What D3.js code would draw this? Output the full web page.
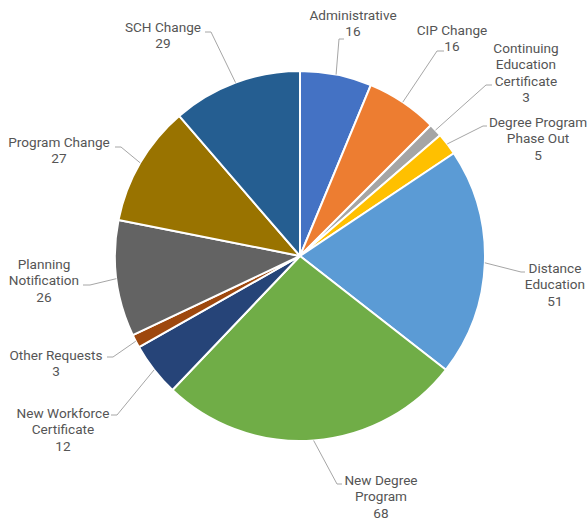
<!DOCTYPE html>
<html><head><meta charset="utf-8">
<script src="https://cdn.jsdelivr.net/npm/d3@7"></script>
<style>html,body{margin:0;padding:0;background:#fff}</style>
</head><body>
<svg id="chart" width="588" height="520"></svg>
<script>
const categories = ["Administrative","CIP Change","Continuing Education Certificate","Degree Program Phase Out","Distance Education","New Degree Program","New Workforce Certificate","Other Requests","Planning Notification","Program Change","SCH Change"];
const values = [16,16,3,5,51,68,12,3,26,27,29];
const colors = ["#4472C4","#ED7D31","#A5A5A5","#FFC000","#5B9BD5","#70AD47","#264478","#9E480E","#636363","#997300","#255E91"];
const labelLines = [["Administrative"],["CIP Change"],["Continuing","Education","Certificate"],["Degree Program","Phase Out"],["Distance","Education"],["New Degree","Program"],["New Workforce","Certificate"],["Other Requests"],["Planning","Notification"],["Program Change"],["SCH Change"]];
// layout: label block center x, first line center y, elbow point, horizontal end
const labelLayout = [
  {x:353,y:15,ex:339,ey:39,hx:344},
  {x:452,y:30,ex:437,ey:51,hx:444},
  {x:526,y:48,ex:486,ey:85,hx:492},
  {x:538,y:122,ex:483,ey:126,hx:487},
  {x:555,y:268,ex:521,ey:272,hx:525},
  {x:381,y:480,ex:337,ey:484,hx:342},
  {x:63,y:413,ex:117,ey:415,hx:111},
  {x:56,y:355,ex:113,ey:357,hx:107},
  {x:44,y:264,ex:90,ey:285,hx:83},
  {x:59,y:142,ex:121,ey:147,hx:115},
  {x:163,y:27,ex:211,ey:32,hx:205}
];
const cx = 300, cy = 256, R = 185;
const svg = d3.select("#chart");
const g = svg.append("g").attr("transform",`translate(${cx},${cy})`);
const pie = d3.pie().sort(null).value(d=>d);
const arcs = pie(values);
const arc = d3.arc().innerRadius(0).outerRadius(R);
g.selectAll("path.slice").data(arcs).enter().append("path")
  .attr("class","slice").attr("d",arc)
  .attr("fill",(d,i)=>colors[i]).attr("stroke","#fff").attr("stroke-width",2).attr("stroke-linejoin","round");

const lineH = 16.5;
arcs.forEach((d,i)=>{
  const L = labelLayout[i];
  const a = (d.startAngle+d.endAngle)/2;
  const sx = cx + Math.sin(a)*R, sy = cy - Math.cos(a)*R;
  svg.append("polyline")
    .attr("points",`${sx},${sy} ${L.ex},${L.ey} ${L.hx},${L.ey}`)
    .attr("fill","none").attr("stroke","#A6A6A6").attr("stroke-width",1);
  const lines = labelLines[i].concat([String(values[i])]);
  const t = svg.append("text").attr("text-anchor","middle")
    .attr("font-family","Roboto, 'Noto Sans', sans-serif").attr("font-size",13.6).attr("fill","#555555");
  lines.forEach((s,k)=>{
    t.append("tspan").attr("x",L.x).attr("y",L.y + k*lineH).attr("dy","0.35em").text(s);
  });
});
</script>
</body></html>
